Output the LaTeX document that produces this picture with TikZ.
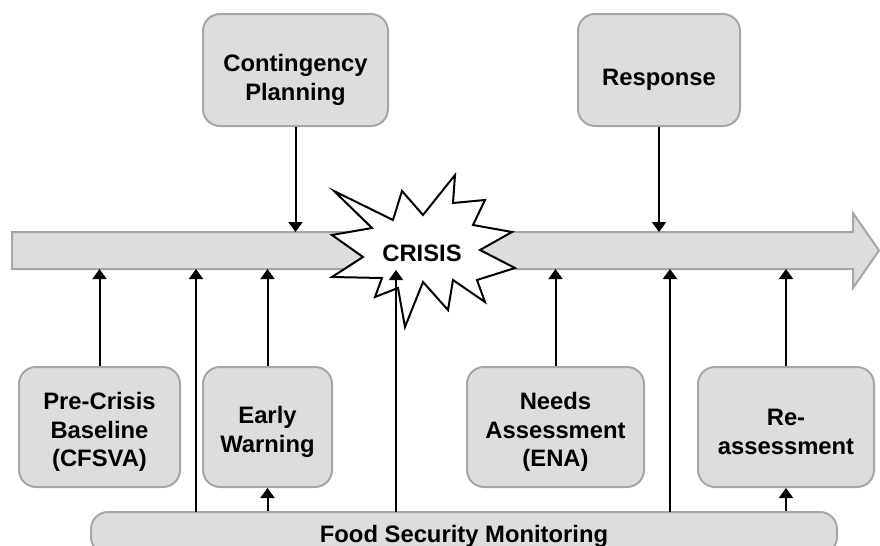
\documentclass[tikz,border=0pt]{standalone}
\usepackage{fontspec}
\setmainfont{Liberation Sans}
\usetikzlibrary{arrows.meta}
\definecolor{boxfill}{HTML}{DDDDDD}
\definecolor{boxline}{HTML}{A6A6A6}
\tikzset{
  stage/.style={draw=boxline, fill=boxfill, line width=1pt, rounded corners=8.5pt,
    inner sep=0pt, minimum height=60pt},
  tag/.style={align=center, inner sep=0pt, yshift=-2.5pt,
    font=\bfseries\fontsize{11.9}{14.2}\selectfont},
  toptag/.style={tag, yshift=-2.5pt},
  flow/.style={line width=1pt, -{Triangle[width=7pt,length=5pt]}},
}
\begin{document}
\begin{tikzpicture}[x=0.5pt,y=-0.5pt]
  \useasboundingbox (0,0) rectangle (880,546);
  \clip (0,0) rectangle (880,546);
  % time line
  \draw[draw=boxline, fill=boxfill, line width=1pt] (12,232) -- (853,232) -- (853,213) -- (879,250.5)
    -- (853,288) -- (853,269) -- (12,269) -- cycle;
  \coordinate (bandtop) at (0,232);
  \coordinate (bandbot) at (0,269);
  % crisis
  \draw[fill=white, line width=1pt] (334,191) -- (393,220) -- (402,191) -- (423,215) -- (455,175)
    -- (453,203) -- (485,200) -- (473,225) -- (512,232) -- (480,250) -- (515,268) -- (477,280)
    -- (485,302) -- (453,280) -- (448,310) -- (423,282) -- (405,327) -- (398,288) -- (375,297)
    -- (382,278) -- (332,277) -- (363,257) -- (332,235) -- (372,228) -- cycle;
  \node[tag, yshift=0pt] (crisis) at (422,248) {CRISIS};
  \coordinate (crisisin) at (396,270);
  % boxes
  \node[stage, minimum width=92.5pt, minimum height=56pt,
    label={[toptag]center:Contingency\\Planning}] (plan) at (295.5,70) {};
  \node[stage, minimum width=81pt, minimum height=56pt,
    label={[toptag]center:Response}] (resp) at (659,70) {};
  \node[stage, minimum width=80.5pt,
    label={[tag]center:Pre-Crisis\\Baseline\\(CFSVA)}] (base) at (99.5,427) {};
  \node[stage, minimum width=64.5pt,
    label={[tag]center:Early\\Warning}] (warn) at (267.5,427) {};
  \node[stage, minimum width=88.5pt,
    label={[tag]center:Needs\\Assessment\\(ENA)}] (needs) at (555.5,427) {};
  \node[stage, minimum width=88pt,
    label={[tag]center:Re-\\assessment}] (reass) at (786,427) {};
  \node[stage, minimum width=373pt, minimum height=21pt,
    label={[tag, yshift=1pt]center:Food Security Monitoring}] (fsm) at (464,533) {};
  \coordinate (m1) at (196,512);
  \coordinate (m2) at (396,512);
  \coordinate (m3) at (670,512);
  % connectors
  \draw[flow] (plan.south) -- (plan.south |- bandtop);
  \draw[flow] (resp.south) -- (resp.south |- bandtop);
  \draw[flow] (base.north) -- (base.north |- bandbot);
  \draw[flow] (warn.north) -- (warn.north |- bandbot);
  \draw[flow] (needs.north) -- (needs.north |- bandbot);
  \draw[flow] (reass.north) -- (reass.north |- bandbot);
  \draw[flow] (m1) -- (m1 |- bandbot);
  \draw[flow] (m2) -- (crisisin);
  \draw[flow] (m3) -- (m3 |- bandbot);
  \draw[flow] (warn.south |- fsm.north) -- (warn.south);
  \draw[flow] (reass.south |- fsm.north) -- (reass.south);
\end{tikzpicture}
\end{document}
